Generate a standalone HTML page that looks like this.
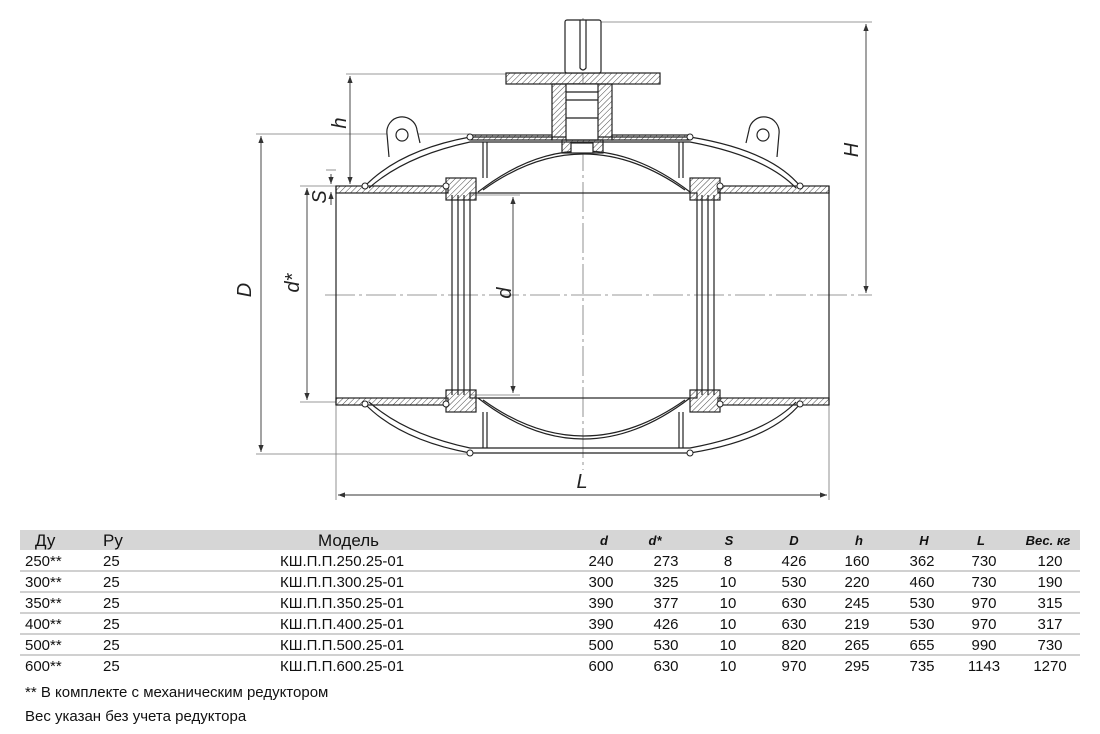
<!DOCTYPE html>
<html><head><meta charset="utf-8"><style>
html,body{margin:0;padding:0;background:#fff;width:1100px;height:734px;overflow:hidden}
svg{display:block}
.t{font-family:"Liberation Sans","DejaVu Sans",sans-serif;font-size:15px;fill:#111}
.h{font-family:"Liberation Sans",sans-serif;font-size:13px;font-weight:bold;font-style:italic;fill:#111}
.lb{font-family:"Liberation Sans",sans-serif;font-size:20px;font-style:italic;fill:#222}
</style></head><body>
<svg width="1100" height="734" viewBox="0 0 1100 734" xmlns="http://www.w3.org/2000/svg">
<defs>
<pattern id="hat" width="4" height="4" patternUnits="userSpaceOnUse" patternTransform="rotate(45)">
<line x1="0" y1="0" x2="0" y2="4" stroke="#333" stroke-width="0.9"/></pattern>
<marker id="ar" markerWidth="8" markerHeight="6" refX="8" refY="3" orient="auto-start-reverse"><path d="M0,0 L8,3 L0,6z" fill="#333"/></marker>
</defs>
<g fill="none" stroke="#777" stroke-width="0.8">
<line x1="600" y1="22" x2="872" y2="22"/>
<line x1="346" y1="74" x2="506" y2="74"/>
<line x1="256" y1="134" x2="470" y2="134"/>
<line x1="256" y1="454" x2="470" y2="454"/>
<line x1="300" y1="186" x2="336" y2="186"/>
<line x1="300" y1="402" x2="336" y2="402"/>
<line x1="326" y1="170" x2="336" y2="170"/>
<line x1="336" y1="405" x2="336" y2="500"/>
<line x1="829" y1="405" x2="829" y2="500"/>
<line x1="583" y1="18" x2="583" y2="470" stroke-dasharray="30,4,3,4"/>
<line x1="325" y1="295" x2="872" y2="295" stroke-dasharray="30,4,3,4"/>
<line x1="470" y1="195" x2="520" y2="195"/>
<line x1="470" y1="395" x2="520" y2="395"/>
</g>
<g fill="none" stroke="#333" stroke-width="0.9">
<line x1="261" y1="136" x2="261" y2="452" marker-start="url(#ar)" marker-end="url(#ar)"/>
<line x1="307" y1="188" x2="307" y2="400" marker-start="url(#ar)" marker-end="url(#ar)"/>
<line x1="331" y1="174" x2="331" y2="184" marker-end="url(#ar)"/>
<line x1="331" y1="205" x2="331" y2="192" marker-end="url(#ar)"/>
<line x1="350" y1="76" x2="350" y2="184" marker-start="url(#ar)" marker-end="url(#ar)"/>
<line x1="866" y1="24" x2="866" y2="293" marker-start="url(#ar)" marker-end="url(#ar)"/>
<line x1="513" y1="197" x2="513" y2="393" marker-start="url(#ar)" marker-end="url(#ar)"/>
<line x1="338" y1="495" x2="827" y2="495" marker-start="url(#ar)" marker-end="url(#ar)"/>
</g>
<text class="lb" transform="translate(251,290) rotate(-90)" text-anchor="middle">D</text>
<text class="lb" transform="translate(299,283) rotate(-90)" text-anchor="middle">d*</text>
<text class="lb" transform="translate(326,197) rotate(-90)" text-anchor="middle">S</text>
<text class="lb" transform="translate(346,123) rotate(-90)" text-anchor="middle">h</text>
<text class="lb" transform="translate(858,150) rotate(-90)" text-anchor="middle">H</text>
<text class="lb" transform="translate(511,293) rotate(-90)" text-anchor="middle">d</text>
<text class="lb" x="582" y="488" text-anchor="middle">L</text>

<g stroke="#222" stroke-width="1.2" fill="none">
<!-- lugs -->
<path d="M389,157 L387,134 A15,15 0 0 1 417,130 L420,143" fill="#fff"/>
<circle cx="402" cy="135" r="6"/>
<path d="M777,157 L779,134 A15,15 0 0 0 749,130 L746,143" fill="#fff"/>
<circle cx="763" cy="135" r="6"/>
<!-- pipes -->
<rect x="336" y="186" width="112" height="7" fill="url(#hat)"/>
<rect x="336" y="398" width="112" height="7" fill="url(#hat)"/>
<rect x="718" y="186" width="111" height="7" fill="url(#hat)"/>
<rect x="718" y="398" width="111" height="7" fill="url(#hat)"/>
<line x1="336" y1="186" x2="336" y2="405"/>
<line x1="829" y1="186" x2="829" y2="405"/>
<!-- outer shell -->
<path d="M365,186 Q400,150 470,137 L690,137 Q770,150 800,186" />
<path d="M369,188 Q405,156 470,142 L690,142 Q765,156 796,188" />
<path d="M365,404 Q400,440 470,453 L690,453 Q770,440 800,404" />
<path d="M369,402 Q405,434 470,448 L690,448 Q765,434 796,402" />
<line x1="483" y1="142" x2="483" y2="178"/><line x1="487" y1="142" x2="487" y2="178"/>
<line x1="679" y1="142" x2="679" y2="178"/><line x1="683" y1="142" x2="683" y2="178"/>
<line x1="483" y1="412" x2="483" y2="448"/><line x1="487" y1="412" x2="487" y2="448"/>
<line x1="679" y1="412" x2="679" y2="448"/><line x1="683" y1="412" x2="683" y2="448"/>
<!-- ball -->
<path d="M478,192 Q583,110 690,192"/>
<path d="M483,190 Q583,118 685,190"/>
<path d="M478,398 Q583,480 690,398"/>
<path d="M483,400 Q583,472 685,400"/>
<rect x="470" y="193" width="227" height="205"/>
<!-- seats -->
<rect x="446" y="178" width="30" height="22" fill="url(#hat)"/>
<rect x="446" y="390" width="30" height="22" fill="url(#hat)"/>
<rect x="690" y="178" width="30" height="22" fill="url(#hat)"/>
<rect x="690" y="390" width="30" height="22" fill="url(#hat)"/>
<line x1="452" y1="195" x2="452" y2="395"/><line x1="458" y1="195" x2="458" y2="395"/><line x1="464" y1="195" x2="464" y2="395"/>
<line x1="702" y1="195" x2="702" y2="395"/><line x1="708" y1="195" x2="708" y2="395"/><line x1="714" y1="195" x2="714" y2="395"/>
<!-- stem -->
<rect x="506" y="73" width="154" height="11" fill="url(#hat)"/>
<rect x="552" y="84" width="60" height="56" fill="url(#hat)"/>
<rect x="566" y="84" width="32" height="56" fill="#fff"/>
<line x1="566" y1="92" x2="598" y2="92"/><line x1="566" y1="100" x2="598" y2="100"/><line x1="566" y1="118" x2="598" y2="118"/>
<rect x="562" y="140" width="41" height="13" fill="url(#hat)"/>
<rect x="571" y="143" width="22" height="10" fill="#fff"/>
<rect x="565" y="20" width="36" height="53" rx="2" fill="#fff"/>
<path d="M580,20 L580,68 Q583,72 586,68 L586,20"/>
<rect x="470" y="135" width="82" height="5" fill="url(#hat)"/>
<rect x="612" y="135" width="78" height="5" fill="url(#hat)"/>
</g>
<g fill="#fff" stroke="#222">
<circle cx="365" cy="186" r="3"/><circle cx="800" cy="186" r="3"/><circle cx="470" cy="137" r="3"/><circle cx="690" cy="137" r="3"/>
<circle cx="365" cy="404" r="3"/><circle cx="800" cy="404" r="3"/><circle cx="470" cy="453" r="3"/><circle cx="690" cy="453" r="3"/>
<circle cx="446" cy="186" r="3"/><circle cx="720" cy="186" r="3"/><circle cx="446" cy="404" r="3"/><circle cx="720" cy="404" r="3"/>
</g>

<!-- table -->
<rect x="20" y="530" width="1060" height="20" fill="#d6d6d6"/>
<g stroke="#d0d0d0" stroke-width="2">
<line x1="20" y1="571" x2="1080" y2="571"/><line x1="20" y1="592" x2="1080" y2="592"/>
<line x1="20" y1="613" x2="1080" y2="613"/><line x1="20" y1="634" x2="1080" y2="634"/>
<line x1="20" y1="655" x2="1080" y2="655"/>
</g>
<text class="t" x="35" y="546" style="font-size:17px">Ду</text>
<text class="t" x="103" y="546" style="font-size:17px">Ру</text>
<text class="t" x="318" y="546" style="font-size:17px">Модель</text>
<g text-anchor="middle">
<text class="h" x="604" y="545">d</text><text class="h" x="655" y="545">d*</text><text class="h" x="729" y="545">S</text>
<text class="h" x="794" y="545">D</text><text class="h" x="859" y="545">h</text><text class="h" x="924" y="545">H</text>
<text class="h" x="981" y="545">L</text><text class="h" x="1048" y="545">Вес. кг</text>
</g>
<g class="t">
<text x="25" y="566">250**</text><text x="103" y="566">25</text><text x="280" y="566">КШ.П.П.250.25-01</text>
<text x="25" y="587">300**</text><text x="103" y="587">25</text><text x="280" y="587">КШ.П.П.300.25-01</text>
<text x="25" y="608">350**</text><text x="103" y="608">25</text><text x="280" y="608">КШ.П.П.350.25-01</text>
<text x="25" y="629">400**</text><text x="103" y="629">25</text><text x="280" y="629">КШ.П.П.400.25-01</text>
<text x="25" y="650">500**</text><text x="103" y="650">25</text><text x="280" y="650">КШ.П.П.500.25-01</text>
<text x="25" y="671">600**</text><text x="103" y="671">25</text><text x="280" y="671">КШ.П.П.600.25-01</text>
</g>
<g class="t" text-anchor="middle">
<text x="601" y="566">240</text><text x="666" y="566">273</text><text x="728" y="566">8</text><text x="794" y="566">426</text><text x="857" y="566">160</text><text x="922" y="566">362</text><text x="984" y="566">730</text><text x="1050" y="566">120</text>
<text x="601" y="587">300</text><text x="666" y="587">325</text><text x="728" y="587">10</text><text x="794" y="587">530</text><text x="857" y="587">220</text><text x="922" y="587">460</text><text x="984" y="587">730</text><text x="1050" y="587">190</text>
<text x="601" y="608">390</text><text x="666" y="608">377</text><text x="728" y="608">10</text><text x="794" y="608">630</text><text x="857" y="608">245</text><text x="922" y="608">530</text><text x="984" y="608">970</text><text x="1050" y="608">315</text>
<text x="601" y="629">390</text><text x="666" y="629">426</text><text x="728" y="629">10</text><text x="794" y="629">630</text><text x="857" y="629">219</text><text x="922" y="629">530</text><text x="984" y="629">970</text><text x="1050" y="629">317</text>
<text x="601" y="650">500</text><text x="666" y="650">530</text><text x="728" y="650">10</text><text x="794" y="650">820</text><text x="857" y="650">265</text><text x="922" y="650">655</text><text x="984" y="650">990</text><text x="1050" y="650">730</text>
<text x="601" y="671">600</text><text x="666" y="671">630</text><text x="728" y="671">10</text><text x="794" y="671">970</text><text x="857" y="671">295</text><text x="922" y="671">735</text><text x="984" y="671">1143</text><text x="1050" y="671">1270</text>
</g>
<text class="t" x="25" y="697">** В комплекте с механическим редуктором</text>
<text class="t" x="25" y="721">Вес указан без учета редуктора</text>
</svg>
</body></html>
